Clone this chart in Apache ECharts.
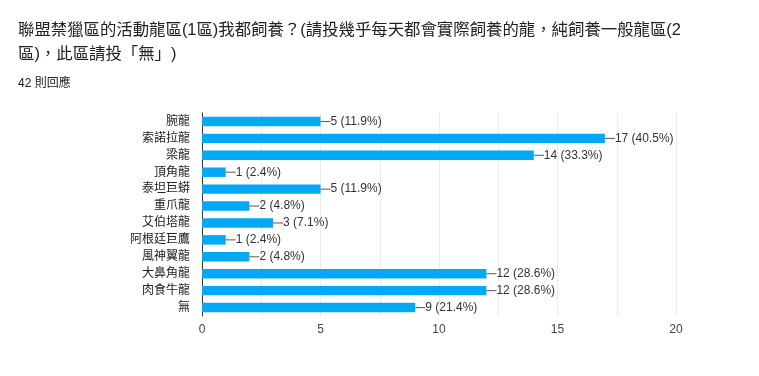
<!DOCTYPE html>
<html>
<head>
<meta charset="utf-8">
<script src="https://cdn.jsdelivr.net/npm/echarts@6/dist/echarts.min.js"></script>
<style>
  html, body { margin: 0; padding: 0; background: #fff; }
  #chart { width: 759px; height: 376px; }
</style>
</head>
<body>
<div id="chart"></div>
<script>
// question + response count
const titleLines = ['聯盟禁獵區的活動龍區(1區)我都飼養？(請投幾乎每天都會實際飼養的龍，純飼養一般龍區(2', '區)，此區請投「無」)'];
const responseText = '42 則回應';

// answers, top to bottom
const categories = ['腕龍', '索諾拉龍', '梁龍', '頂角龍', '泰坦巨蟒', '重爪龍', '艾伯塔龍', '阿根廷巨鷹', '風神翼龍', '大鼻角龍', '肉食牛龍', '無'];
const counts = [5, 17, 14, 1, 5, 2, 3, 1, 2, 12, 12, 9];
const percents = ['11.9%', '40.5%', '33.3%', '2.4%', '11.9%', '4.8%', '7.1%', '2.4%', '4.8%', '28.6%', '28.6%', '21.4%'];
const tickLabels = ['0', '5', '10', '15', '20'];

const font = 'Arial, "Liberation Sans", "Noto Sans CJK TC", sans-serif';

let chart = echarts.init(document.getElementById('chart'));

let option = {
    animation: false,
    textStyle: { fontFamily: font },
    title: [
        {
            text: titleLines.join('\n'),
            left: 13, top: 13,
            textStyle: { fontSize: 16.4, fontWeight: 'normal', color: '#202124', lineHeight: 24, fontFamily: font }
        },
        {
            text: responseText,
            left: 13, top: 73,
            textStyle: { fontSize: 12, fontWeight: 'normal', color: '#202124', fontFamily: font }
        }
    ],
    grid: { left: 202, right: 83, top: 113, bottom: 60, containLabel: false },
    xAxis: {
        type: 'value',
        min: 0, max: 20, interval: 2.5,
        axisLine: { show: false },
        axisTick: { show: false },
        splitLine: { show: true, lineStyle: { color: '#ebebeb', width: 1 } },
        axisLabel: {
            color: '#444', fontSize: 12, margin: 8,
            formatter: v => (v % 5 === 0 ? tickLabels[v / 5] : '')
        }
    },
    yAxis: {
        type: 'category',
        data: categories,
        inverse: true,
        axisLine: { show: true, lineStyle: { color: '#333', width: 1 } },
        axisTick: { show: false },
        axisLabel: { color: '#222', fontSize: 12, margin: 12 }
    },
    series: [{
        type: 'bar',
        data: counts,
        barCategoryGap: '44%',
        itemStyle: { color: '#03a9f4' },
        label: {
            show: true,
            position: 'right',
            distance: 0,
            color: '#333',
            fontSize: 12,
            formatter: p => '{ln|}' + counts[p.dataIndex] + ' (' + percents[p.dataIndex] + ')',
            rich: {
                ln: { width: 10, height: 1, backgroundColor: '#555', verticalAlign: 'middle' }
            }
        }
    }]
};

chart.setOption(option);
</script>
</body>
</html>
